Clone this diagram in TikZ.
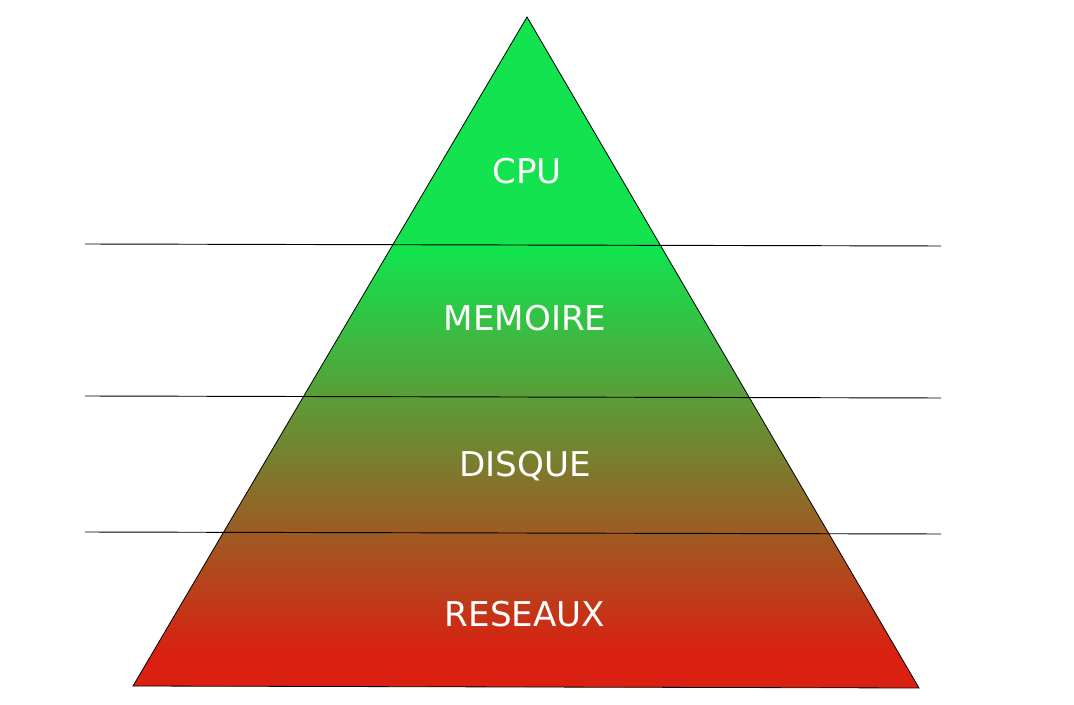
\documentclass[tikz,border=0pt]{standalone}
\usepackage{fontspec}
\setmainfont{DejaVu Sans}

\definecolor{pyrgreen}{RGB}{18,227,78}
\definecolor{pyrred}{RGB}{218,32,16}
\pgfdeclareverticalshading{pyramid}{100bp}{color(0bp)=(pyrred); color(27.5bp)=(pyrred); color(57.5bp)=(pyrgreen); color(100bp)=(pyrgreen)}

\tikzset{
  level/.style={text=white, font=\fontsize{25.6}{30}\selectfont, anchor=base},
  cut/.style={line width=0.7pt}
}

\begin{document}
\begin{tikzpicture}[x=0.75pt,y=-0.75pt]
    \useasboundingbox (0,0) rectangle (1074,705);
    \coordinate (top) at (527,17);
    \coordinate (bl) at (133,686);
    \coordinate (br) at (919,688);
    \shade[shading=pyramid] (top) -- (bl) -- (br) -- cycle;
    % separating lines
    \coordinate (a1) at (85,244);  \coordinate (b1) at (941,246);
    \coordinate (a2) at (85,396);  \coordinate (b2) at (941,398);
    \coordinate (a3) at (85,532);  \coordinate (b3) at (941,534);
    \draw[cut] (a1) -- (b1);
    \draw[cut] (a2) -- (b2);
    \draw[cut] (a3) -- (b3);
    \draw[line width=0.6pt] (top) -- (bl) -- (br) -- cycle;
    \node[level] (cpu) at (527,184) {CPU};
    \node[level] (memoire) at (525,331) {MEMOIRE};
    \node[level] (disque) at (525,476) {DISQUE};
    \node[level] (reseaux) at (525,626) {RESEAUX};
  \end{tikzpicture}
\end{document}
